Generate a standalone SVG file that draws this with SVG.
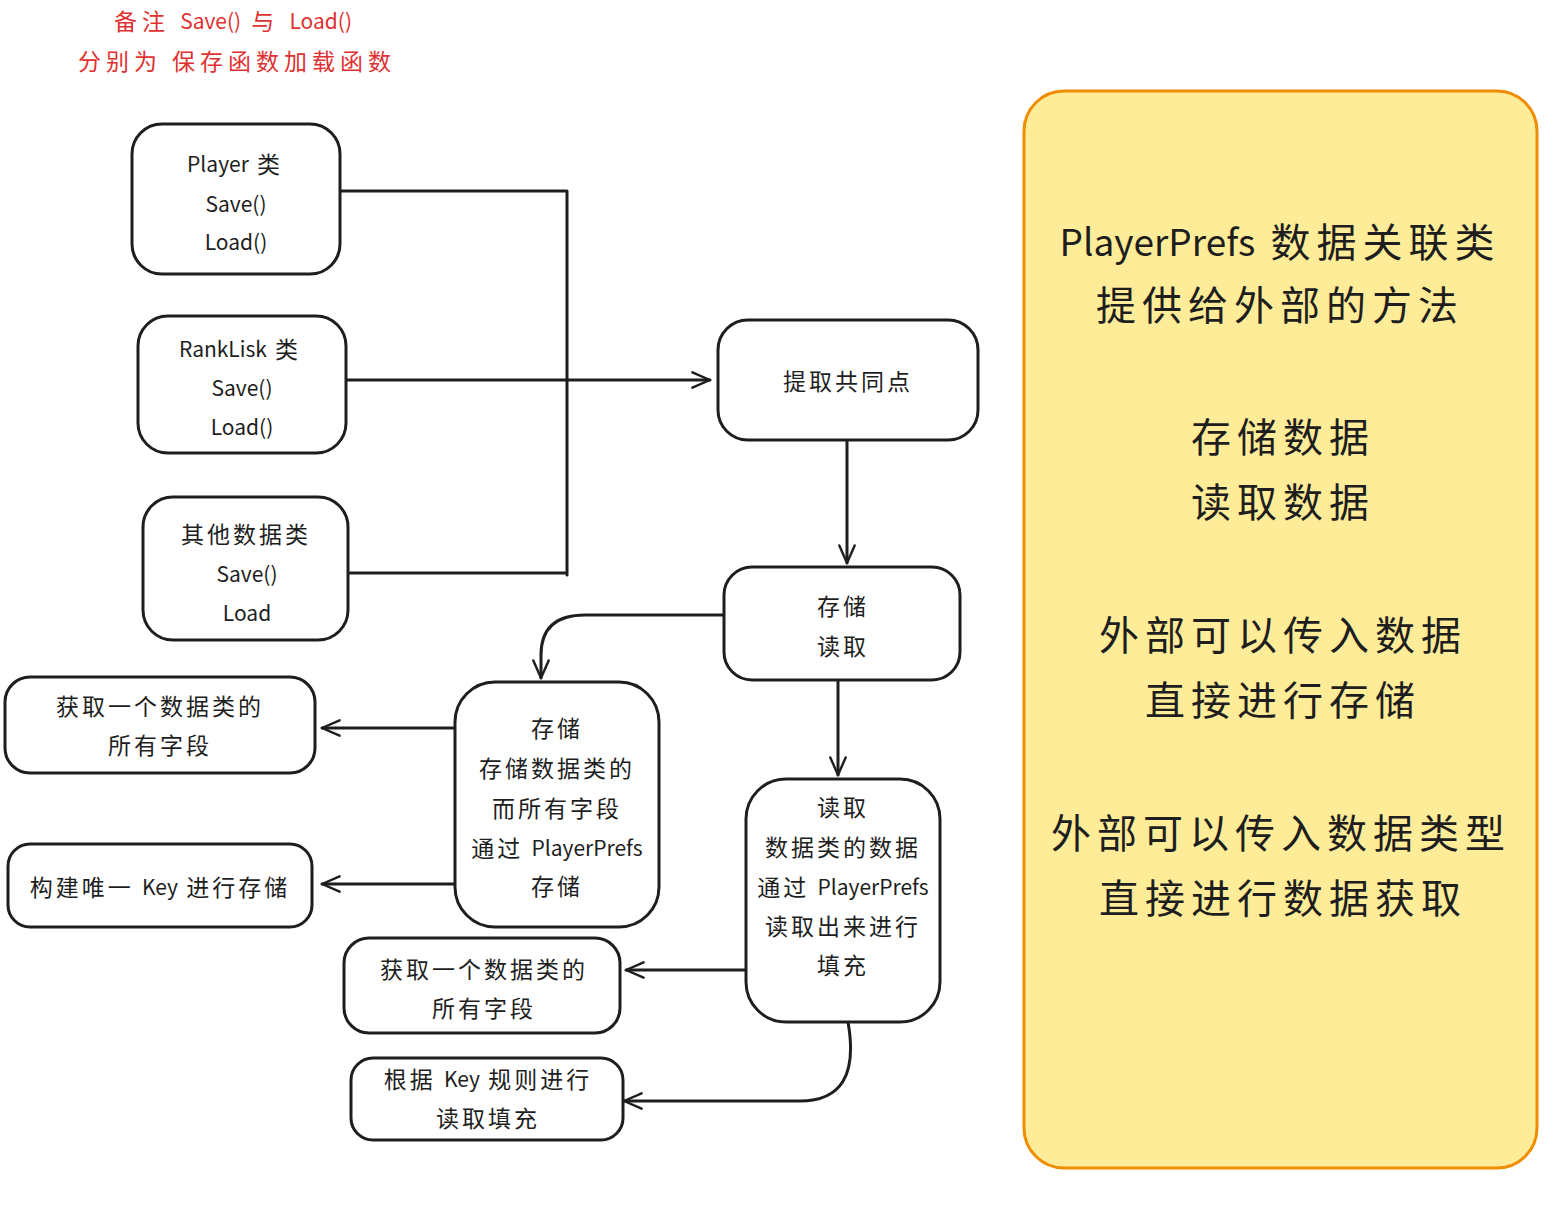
<svg xmlns="http://www.w3.org/2000/svg" width="1560" height="1209" viewBox="0 0 1560 1209">
<style>
.n{fill:#fff;stroke:#1e1e1e;stroke-width:3}
.t{font-family:"Noto Sans CJK SC","Noto Sans",sans-serif;font-size:23px;fill:#1e1e1e;text-anchor:middle;dominant-baseline:central;letter-spacing:3px}
.p{font-family:"Noto Sans CJK SC","Noto Sans",sans-serif;font-size:40px;fill:#1e1e1e;text-anchor:middle;dominant-baseline:central;letter-spacing:6px}
.r{font-family:"Noto Sans CJK SC","Noto Sans",sans-serif;font-size:23px;fill:#e03131;text-anchor:middle;dominant-baseline:central;letter-spacing:5px}
.l{letter-spacing:0;font-size:21px}
.lp{letter-spacing:0;font-size:37px}
.c{fill:none;stroke:#1e1e1e;stroke-width:3;stroke-linejoin:round;stroke-linecap:round}
</style>
<defs>
<marker id="a" viewBox="0 0 20 20" refX="18" refY="10" markerWidth="22" markerHeight="22" orient="auto" markerUnits="userSpaceOnUse">
<path d="M2,3 L18,10 L2,17" fill="none" stroke="#1e1e1e" stroke-width="2.2" stroke-linecap="round" stroke-linejoin="round"/>
</marker>
</defs>
<rect width="1560" height="1209" fill="#fff"/>
<g id="note">
<text class="r" x="233" y="20">备注 <tspan class="l">Save()</tspan> 与 <tspan class="l">Load()</tspan></text>
<text class="r" x="237" y="60">分别为 保存函数加载函数</text>
</g>
<g id="panel">
<rect x="1024" y="91" width="513" height="1077" rx="40" fill="#ffec99" stroke="#f08c00" stroke-width="3"/>
<text class="p" x="1280" y="240"><tspan class="lp">PlayerPrefs</tspan> 数据关联类</text>
<text class="p" x="1280" y="303">提供给外部的方法</text>
<text class="p" x="1283" y="435">存储数据</text>
<text class="p" x="1283" y="500">读取数据</text>
<text class="p" x="1283" y="633">外部可以传入数据</text>
<text class="p" x="1283" y="698">直接进行存储</text>
<text class="p" x="1281" y="831">外部可以传入数据类型</text>
<text class="p" x="1283" y="896">直接进行数据获取</text>
</g>
<g id="connectors">
<path class="c" d="M340 191 H567 V575"/>
<path class="c" d="M344 573 H565"/>
<path class="c" d="M346 380 H710" marker-end="url(#a)"/>
<path class="c" d="M847 440 V563" marker-end="url(#a)"/>
<path class="c" d="M723 615 H585 Q541 615 541 655 V678" marker-end="url(#a)"/>
<path class="c" d="M838 680 V775" marker-end="url(#a)"/>
<path class="c" d="M457 728 H322" marker-end="url(#a)"/>
<path class="c" d="M455 884 H322" marker-end="url(#a)"/>
<path class="c" d="M746 970 H626" marker-end="url(#a)"/>
<path class="c" d="M848 1022 Q862 1101 800 1101 H624" marker-end="url(#a)"/>
</g>
<g id="player">
<rect class="n" x="132" y="124" width="208" height="150" rx="30"/>
<text class="t" x="235" y="163"><tspan class="l">Player</tspan> 类</text>
<text class="t" x="236" y="203"><tspan class="l">Save()</tspan></text>
<text class="t" x="236" y="241"><tspan class="l">Load()</tspan></text>
</g>
<g id="ranklisk">
<rect class="n" x="138" y="316" width="208" height="137" rx="30"/>
<text class="t" x="240" y="348"><tspan class="l">RankLisk</tspan> 类</text>
<text class="t" x="242" y="387"><tspan class="l">Save()</tspan></text>
<text class="t" x="242" y="426"><tspan class="l">Load()</tspan></text>
</g>
<g id="other">
<rect class="n" x="143" y="497" width="205" height="143" rx="30"/>
<text class="t" x="246" y="533">其他数据类</text>
<text class="t" x="247" y="573"><tspan class="l">Save()</tspan></text>
<text class="t" x="247" y="612"><tspan class="l">Load</tspan></text>
</g>
<g id="extract">
<rect class="n" x="718" y="320" width="260" height="120" rx="30"/>
<text class="t" x="848" y="380">提取共同点</text>
</g>
<g id="saveload">
<rect class="n" x="724" y="567" width="236" height="113" rx="28"/>
<text class="t" x="843" y="605">存储</text>
<text class="t" x="843" y="645">读取</text>
</g>
<g id="store">
<rect class="n" x="455" y="682" width="204" height="245" rx="40"/>
<text class="t" x="557" y="727">存储</text>
<text class="t" x="557" y="767">存储数据类的</text>
<text class="t" x="557" y="807">而所有字段</text>
<text class="t" x="557" y="847">通过 <tspan class="l">PlayerPrefs</tspan></text>
<text class="t" x="557" y="885">存储</text>
</g>
<g id="getfields1">
<rect class="n" x="5" y="677" width="310" height="96" rx="25"/>
<text class="t" x="160" y="705">获取一个数据类的</text>
<text class="t" x="160" y="744">所有字段</text>
</g>
<g id="buildkey">
<rect class="n" x="8" y="844" width="304" height="83" rx="22"/>
<text class="t" x="160" y="886">构建唯一 <tspan class="l">Key</tspan> 进行存储</text>
</g>
<g id="read">
<rect class="n" x="746" y="779" width="194" height="243" rx="40"/>
<text class="t" x="843" y="806">读取</text>
<text class="t" x="843" y="846">数据类的数据</text>
<text class="t" x="843" y="886">通过 <tspan class="l">PlayerPrefs</tspan></text>
<text class="t" x="843" y="925">读取出来进行</text>
<text class="t" x="843" y="964">填充</text>
</g>
<g id="getfields2">
<rect class="n" x="344" y="938" width="276" height="95" rx="25"/>
<text class="t" x="484" y="968">获取一个数据类的</text>
<text class="t" x="484" y="1007">所有字段</text>
</g>
<g id="keyread">
<rect class="n" x="351" y="1058" width="272" height="82" rx="22"/>
<text class="t" x="488" y="1078">根据 <tspan class="l">Key</tspan> 规则进行</text>
<text class="t" x="488" y="1117">读取填充</text>
</g>
</svg>
